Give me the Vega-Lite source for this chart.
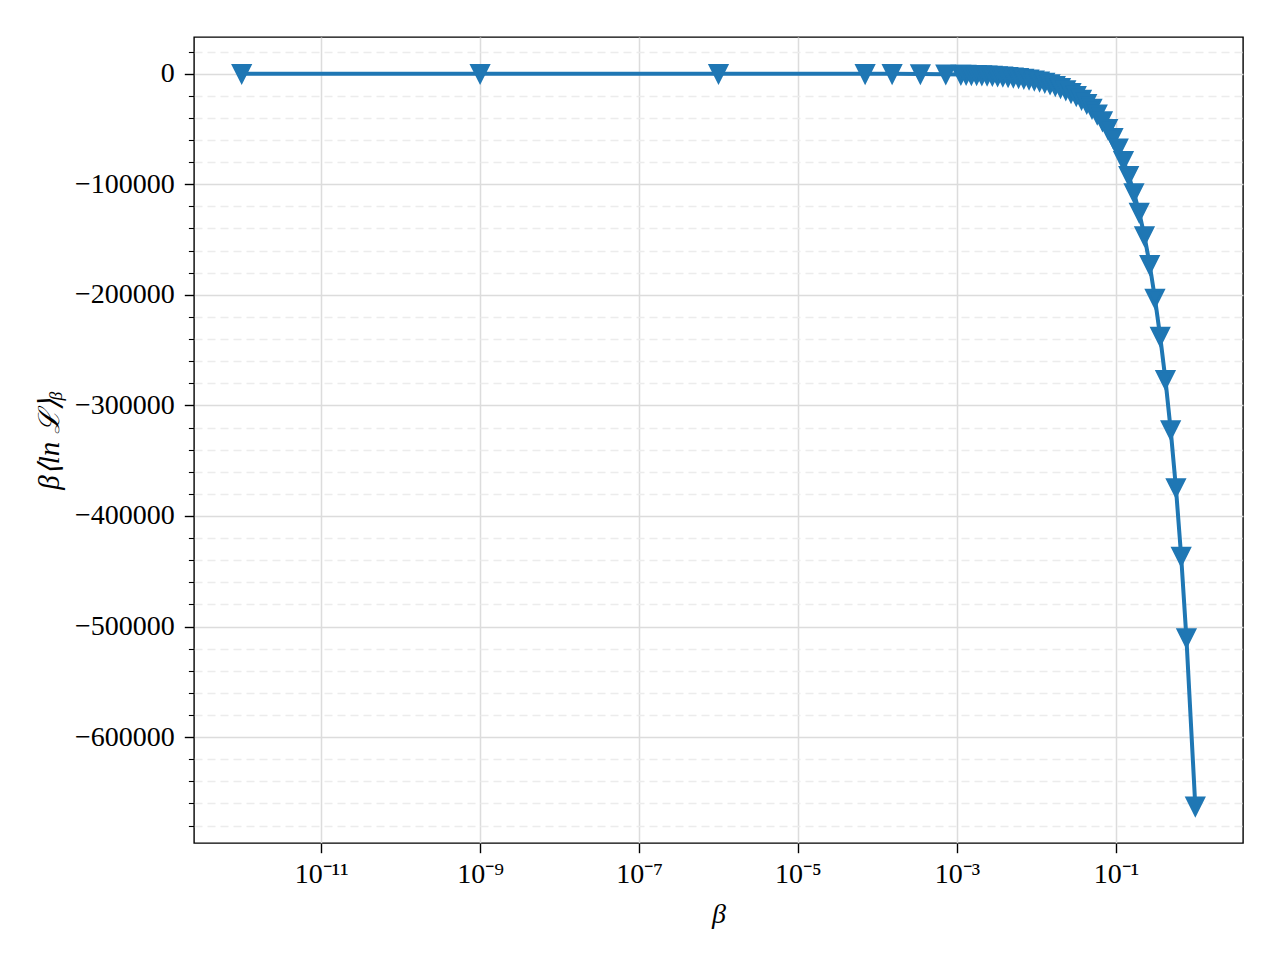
{
  "$schema": "https://vega.github.io/schema/vega-lite/v6.json",
  "width": 1049,
  "height": 806,
  "autosize": {"type": "none"},
  "padding": {"left": 194, "top": 37, "right": 37, "bottom": 117},
  "background": "white",
  "config": {
    "view": {"stroke": "black", "strokeWidth": 1.4},
    "font": "Liberation Serif"
  },
  "data": {
    "values": [
      {"beta": 1e-12, "v": -0.0006},
      {"beta": 1e-9, "v": -0.63},
      {"beta": 1e-6, "v": -0.63},
      {"beta": 0.000070, "v": -44},
      {"beta": 0.000153, "v": -96},
      {"beta": 0.000347, "v": -219},
      {"beta": 0.000724, "v": -456},
      {"beta": 0.0011220, "v": -707},
      {"beta": 0.0013062, "v": -823},
      {"beta": 0.0015205, "v": -958},
      {"beta": 0.0017701, "v": -1115},
      {"beta": 0.0020606, "v": -1298},
      {"beta": 0.0023988, "v": -1511},
      {"beta": 0.0027925, "v": -1759},
      {"beta": 0.0032509, "v": -2048},
      {"beta": 0.0037844, "v": -2384},
      {"beta": 0.0044055, "v": -2775},
      {"beta": 0.0051286, "v": -3231},
      {"beta": 0.0059704, "v": -3761},
      {"beta": 0.0069502, "v": -4379},
      {"beta": 0.0080910, "v": -5097},
      {"beta": 0.0094189, "v": -5934},
      {"beta": 0.0109648, "v": -6908},
      {"beta": 0.0127644, "v": -8042},
      {"beta": 0.0148594, "v": -9361},
      {"beta": 0.0172982, "v": -10898},
      {"beta": 0.0201372, "v": -12686},
      {"beta": 0.0234423, "v": -14769},
      {"beta": 0.0272898, "v": -17193},
      {"beta": 0.0317687, "v": -20014},
      {"beta": 0.0369828, "v": -23299},
      {"beta": 0.0430527, "v": -27123},
      {"beta": 0.0501187, "v": -31575},
      {"beta": 0.0583445, "v": -36757},
      {"beta": 0.0679204, "v": -42790},
      {"beta": 0.0790679, "v": -49813},
      {"beta": 0.0920450, "v": -57988},
      {"beta": 0.1071519, "v": -67506},
      {"beta": 0.1247384, "v": -78700},
      {"beta": 0.1452112, "v": -92354},
      {"beta": 0.1690441, "v": -107850},
      {"beta": 0.1967886, "v": -125551},
      {"beta": 0.2290868, "v": -146845},
      {"beta": 0.2666859, "v": -172813},
      {"beta": 0.3104560, "v": -203349},
      {"beta": 0.3614099, "v": -237808},
      {"beta": 0.4207266, "v": -276838},
      {"beta": 0.4897788, "v": -322274},
      {"beta": 0.5701643, "v": -374598},
      {"beta": 0.6637431, "v": -436743},
      {"beta": 0.7726806, "v": -510356},
      {"beta": 1.0, "v": -662600}
    ]
  },
  "encoding": {
    "x": {
      "field": "beta",
      "type": "quantitative",
      "scale": {"type": "log", "domain": [2.512e-13, 3.981], "nice": false},
      "axis": {
        "values": [1e-11, 1e-9, 1e-7, 1e-5, 1e-3, 1e-1],
        "labelExpr": "round(log(datum.value)/LN10) == -11 ? '10⁻¹¹' : round(log(datum.value)/LN10) == -9 ? '10⁻⁹' : round(log(datum.value)/LN10) == -7 ? '10⁻⁷' : round(log(datum.value)/LN10) == -5 ? '10⁻⁵' : round(log(datum.value)/LN10) == -3 ? '10⁻³' : '10⁻¹'",
        "title": "β",
        "titleFontStyle": "italic",
        "titleFontWeight": "normal",
        "titleFontSize": 28,
        "titleColor": "black",
        "titlePadding": 12,
        "labelFontSize": 28,
        "labelColor": "black",
        "labelPadding": 8,
        "tickSize": 9.7,
        "tickWidth": 1.4,
        "tickColor": "black",
        "domain": false,
        "grid": true,
        "gridColor": "#dcdcdc",
        "gridWidth": 1.5
      }
    }
  },
  "layer": [
    {
      "mark": {"type": "line", "color": "#1f77b4", "strokeWidth": 4},
      "encoding": {
        "y": {
          "field": "v",
          "type": "quantitative",
          "scale": {"domain": [-695730, 33130], "nice": false, "zero": false},
          "axis": {
            "orient": "left",
            "values": [0, -100000, -200000, -300000, -400000, -500000, -600000],
            "format": "d",
            "title": "β⟨ln ℒ⟩ᵦ",
            "titleFontStyle": "italic",
            "titleFontWeight": "normal",
            "titleFontSize": 29,
            "titleColor": "black",
            "titlePadding": 10,
            "labelFontSize": 28,
            "labelColor": "black",
            "labelPadding": 10,
            "tickSize": 9.7,
            "tickWidth": 1.4,
            "tickColor": "black",
            "domain": false,
            "grid": true,
            "gridColor": "#dcdcdc",
            "gridWidth": 1.5
          }
        }
      }
    },
    {
      "mark": {
        "type": "point",
        "shape": "M-1,-1L1,-1L0,1Z",
        "size": 279,
        "filled": true,
        "fill": "#1f77b4",
        "stroke": "#1f77b4",
        "strokeWidth": 2.8,
        "opacity": 1
      },
      "encoding": {
        "y": {
          "field": "v",
          "type": "quantitative",
          "scale": {"domain": [-695730, 33130], "nice": false, "zero": false},
          "axis": {
            "orient": "left",
            "values": [20000, -20000, -40000, -60000, -80000, -120000, -140000, -160000, -180000, -220000, -240000, -260000, -280000, -320000, -340000, -360000, -380000, -420000, -440000, -460000, -480000, -520000, -540000, -560000, -580000, -620000, -640000, -660000, -680000],
            "labels": false,
            "title": null,
            "tickSize": 5.6,
            "tickWidth": 1.1,
            "tickColor": "black",
            "domain": false,
            "grid": true,
            "gridColor": "#ececec",
            "gridWidth": 1.4,
            "gridDash": [8, 5]
          }
        }
      }
    }
  ],
  "resolve": {"axis": {"y": "independent"}}
}
